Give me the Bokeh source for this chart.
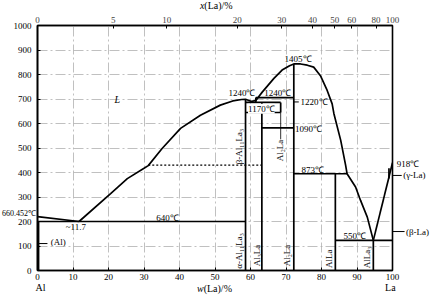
import math
from bokeh.plotting import figure
from bokeh.models import Range1d, LinearAxis, FixedTicker, Label
from bokeh.core.properties import value
from bokeh.embed import file_html
from bokeh.resources import INLINE

FONT = "Liberation Serif"

# ---- data (x: w(La)/%, y: value on the vertical scale) ----
# Al-rich liquidus down to the eutectic
liq_al_x = [0, 11.7]
liq_al_y = [220, 200]

# main liquidus from the Al-side eutectic to the La-side eutectic
liq_x = [11.7, 20.6, 25.3, 29.9, 31.2, 35.1, 40.3, 45.9, 51.5, 55.0, 57.5, 58.6,
         60.3, 61.5, 63.3, 66.6, 68.9, 71.0, 72.2, 74.1, 76.0, 77.8, 79.7, 81.6,
         83.0, 83.5, 85.4, 86.8, 87.2, 89.6, 91.0, 92.9, 94.6]
liq_y = [200, 314, 375, 416, 428, 498, 580, 634, 675, 692, 698, 699,
         690, 694, 728, 784, 818, 836, 843, 843, 838, 830, 795, 735,
         680, 640, 532, 429, 395, 341, 286, 218, 123]

# La-side liquidus
liq_la_x = [94.6, 100]
liq_la_y = [123, 440]

# invariant (horizontal) lines: start, end, level
h_x0 = [0, 58.6, 58.6, 61.5, 63.2, 72.2, 83.9]
h_x1 = [58.6, 68.5, 68.5, 72.2, 72.2, 87.2, 100]
h_y = [200, 686, 645, 706, 582, 395, 123]

# compound / phase boundary (vertical) lines: position, bottom, top
v_x = [0.3, 58.6, 63.2, 68.5, 61.5, 72.2, 83.9, 94.6, 99.0]
v_y0 = [0, 0, 0, 645, 686, 0, 0, 0, 376]
v_y1 = [200, 699, 686, 686, 706, 843, 395, 123, 417]

# polymorphic transition (dotted)
dot_x = [31.2, 63.0]
dot_y = [430, 430]

# thin boundary under the upper Al2La label
thin_x = [68.5, 68.5]
thin_y = [645, 535]

# axes
w_ticks = [0, 10, 20, 30, 40, 50, 60, 70, 80, 90, 100]
y_ticks = [0, 100, 200, 300, 400, 500, 600, 700, 800, 900, 1000]
at_ticks = [0, 5, 10, 20, 30, 40, 50, 60, 80, 100]
M_LA, M_AL = 138.91, 26.98


def at_to_wt(a):
    return 100.0 * a * M_LA / (a * M_LA + (100 - a) * M_AL)


p = figure(width=433, height=303, output_backend="svg", toolbar_location=None,
           x_range=Range1d(0, 100), y_range=Range1d(0, 1000),
           min_border_left=37, min_border_right=41, min_border_top=25,
           min_border_bottom=33, background_fill_color="white",
           border_fill_color="white")
p.outline_line_color = "black"
p.outline_line_width = 1.6

# bottom axis w(La) and left axis
p.xaxis.ticker = FixedTicker(ticks=w_ticks)
p.yaxis.ticker = FixedTicker(ticks=y_ticks)
for ax in (p.xaxis[0], p.yaxis[0]):
    ax.axis_line_color = "black"
    ax.axis_line_width = 1.6
    ax.major_tick_in = 3
    ax.major_tick_out = 0
    ax.minor_tick_line_color = None
    ax.major_label_text_font = FONT
    ax.major_label_text_font_size = "9px"
    ax.major_label_text_color = "black"
p.xaxis.major_label_standoff = 3
p.yaxis.major_label_standoff = 6

# top axis x(La) in at.%
top = LinearAxis(ticker=FixedTicker(ticks=[at_to_wt(a) for a in at_ticks]),
                 major_label_overrides={at_to_wt(a): str(a) for a in at_ticks})
top.axis_line_color = "black"
top.axis_line_width = 1.6
top.major_tick_in = 3
top.major_tick_out = 0
top.minor_tick_line_color = None
top.major_label_text_font = FONT
top.major_label_text_font_size = "9px"
top.major_label_standoff = 3
p.add_layout(top, "above")

# grid
for g in (p.xgrid[0], p.ygrid[0]):
    g.grid_line_color = "#b0b0b0"
    g.grid_line_width = 0.8
    g.grid_line_dash = "10 3 2 3"
p.ygrid.ticker = FixedTicker(ticks=y_ticks)
p.xgrid.ticker = FixedTicker(ticks=w_ticks)

LW = 1.7
p.line(liq_al_x, liq_al_y, line_color="black", line_width=LW)
p.line(liq_x, liq_y, line_color="black", line_width=LW)
p.line(liq_la_x, liq_la_y, line_color="black", line_width=LW)
p.segment(x0=h_x0, y0=h_y, x1=h_x1, y1=h_y, line_color="black", line_width=LW)
p.segment(x0=v_x, y0=v_y0, x1=v_x, y1=v_y1, line_color="black", line_width=LW)
p.line(dot_x, dot_y, line_color="black", line_width=1.3, line_dash="2 2")
p.line(thin_x, thin_y, line_color="black", line_width=0.8)

# short leader dashes for side labels (drawn above the frame clip)
p.segment(x0=[72.2, 100, 100, 0], y0=[688, 388, 159, 110],
          x1=[73.6, 102.6, 103.4, 2.8], y1=[688, 388, 159, 110],
          line_color="black", line_width=1, level="overlay")


def lab(text, x, y, size="9px", align="center", angle=0.0, bg=None, style="normal"):
    kw = dict(x=x, y=y, text=text, text_font=FONT, text_font_size=size,
              text_align=align, text_baseline="middle", angle=angle,
              text_font_style=style, text_color="black")
    if bg:
        kw["background_fill_color"] = bg
    p.add_layout(Label(**kw))


def side_text(xs, ys, texts, align, size="9px", style="normal"):
    # text glyphs on the overlay level so they can sit outside the frame
    p.text(x=xs, y=ys, text=texts, text_font=value(FONT), text_font_size=size,
           text_align=align, text_baseline="middle", text_font_style=style,
           text_color="black", level="overlay")


R = math.pi / 2
lab("L", 22.5, 700, size="10px", style="italic")
lab("1405℃", 73.4, 863)
lab("1240℃", 57.6, 725)
lab("1240℃", 67.7, 725)
lab("1170℃", 63.05, 660, bg="white")
lab("1220℃", 74.1, 688, align="left")
lab("1090℃", 72.5, 578, align="left")
lab("873℃", 77.5, 412)
lab("550℃", 89.4, 139)
lab("640℃", 36.6, 213)
lab("~11.7", 10.8, 177)
lab("(Al)", 3.7, 116, align="left")

lab("β-Al₁₁La₃", 56.9, 506, angle=R)
lab("Al₂La", 68.2, 490, angle=R, bg="white")
lab("α-Al₁₁La₃", 56.9, 80, angle=R)
lab("Al₃La", 61.9, 61, angle=R)
lab("Al₂La", 70.3, 61, angle=R)
lab("AlLa", 82.2, 48, angle=R)
lab("AlLa₃", 92.9, 53, angle=R)

# texts outside the frame
side_text([104.4], [433], ["918℃"], "center")
side_text([103.0, 103.8], [388, 159], ["(γ-La)", "(β-La)"], "left")
side_text([-0.45], [233], ["660.452℃"], "right", size="8px")
side_text([0.85, 99.4], [-68, -68], ["Al", "La"], "center", size="10px")
side_text([46.8, 47.0], [-74, 1082], ["w", "x"], "right", size="10px", style="italic")
side_text([46.8, 47.0], [-74, 1082], ["(La)/%", "(La)/%"], "left", size="10px")

open("out.html", "w").write(file_html(p, INLINE))
